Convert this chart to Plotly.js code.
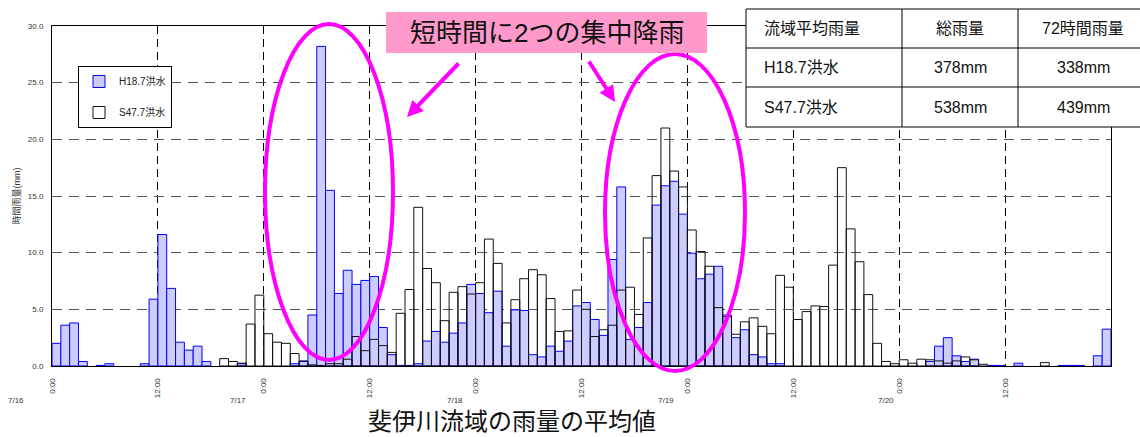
<!DOCTYPE html>
<html><head><meta charset="utf-8">
<script src="https://cdn.plot.ly/plotly-3.0.1.min.js"></script>
<style>html,body{margin:0;padding:0;background:#fff;} #chart{width:1140px;height:437px;}</style>
</head><body><div id="chart"></div>
<script>
// ---- data ----
const hourTickVals = [0,12,24,36,48,60,72,84,96,108];
const hourTickText = ["0:00","12:00","0:00","12:00","0:00","12:00","0:00","12:00","0:00","12:00"];
const dateLabels = ["7/16","7/17","7/18","7/19","7/20"];
const seriesNames = ["H18.7洪水","S47.7洪水"];
const rainH18 = [
  2.0,3.6,3.8,0.4,0,0.05,0.2,0,0,0,0.2,5.9,
  11.6,6.85,2.1,1.4,1.75,0.4,0,0,0,0.2,0,0,
  0,0,0,0.2,0.4,4.5,28.2,15.5,6.4,8.45,7.2,7.55,
  7.9,3.4,1.0,0.05,0.05,0.2,2.2,3.05,2.1,2.9,3.8,7.2,
  6.4,4.7,6.6,1.75,4.95,4.9,1.0,0.8,1.75,1.3,2.2,5.3,
  5.6,4.1,2.7,9.4,15.8,2.35,3.4,5.6,14.2,15.9,16.3,13.4,
  9.95,7.7,8.1,8.8,4.5,2.5,3.2,1.0,0.8,0.2,0.2,0,
  0,0,0,0,0,0,0,0,0,0,0,0,
  0,0,0,0.4,1.75,2.5,0.9,0.4,0.6,0,0.05,0.05,
  0,0.25,0,0,0,0,0.05,0.05,0.05,0,0.9,3.25
];
const rainS47 = [
  0,0,0,0,0,0,0,0,0,0,0,0,
  0,0,0,0,0,0,0,0.65,0.4,0.25,3.7,6.25,
  2.85,2.1,2.0,1.1,0.45,0.1,0.05,0.2,0.2,0.6,2.6,1.35,
  2.35,1.8,1.2,4.65,6.75,14.0,8.6,7.35,4.0,6.5,7.0,6.35,
  7.35,11.2,9.05,3.8,5.85,7.7,8.5,8.05,5.95,3.05,3.1,6.7,
  5.0,2.6,3.2,3.6,6.7,6.95,4.55,11.3,16.8,21.0,17.2,15.8,
  12.0,10.1,8.8,5.15,4.35,2.8,3.9,4.25,3.5,2.85,8.0,6.95,
  4.1,4.8,5.3,5.25,8.9,17.5,12.1,9.2,6.3,2.0,0.4,0.2,
  0.55,0.25,0.6,0.55,0.45,0.25,0.45,0.8,0.55,0.15,0,0,
  0,0,0,0,0.3,0,0,0,0,0,0,0
];
const tableHeader = ["流域平均雨量","総雨量","72時間雨量"];
const tableRowH18 = ["H18.7洪水","378mm","338mm"];
const tableRowS47 = ["S47.7洪水","538mm","439mm"];
const yTickVals = [0,5,10,15,20,25,30];
const chartTitle = "斐伊川流域の雨量の平均値";
const calloutText = "短時間に2つの集中降雨";
const yTitle = "時間雨量(mm)";

// ---- layout helpers (pixel -> paper) ----
const L = 52, R = 1111, T = 26, B = 366;
const px = v => (v - L) / (R - L);
const py = v => (B - v) / (B - T);
const FONT = 'Arial, "Liberation Sans", "Noto Sans CJK JP", sans-serif';

const hours = rainH18.map((_, i) => i + 0.5);
const nz = a => a.map(v => v === 0 ? null : v);

const traces = [
  {type:'bar', name: seriesNames[0], x: hours, y: nz(rainH18), width: 1,
   marker:{color:'rgb(204,204,255)', line:{color:'#0000ff', width:1}},
   legendgroup:'a', legendrank:1, hoverinfo:'x+y'},
  {type:'bar', name: seriesNames[1], x: hours, y: nz(rainS47), width: 1,
   marker:{color:'rgba(255,255,255,0)', line:{color:'#111', width:1}},
   legendgroup:'b', legendrank:2, hoverinfo:'x+y'}
];

const shapes = [];
const annotations = [];

// ellipses
shapes.push({type:'circle', xref:'paper', yref:'paper', layer:'above',
  x0:px(265), x1:px(393), y0:py(360), y1:py(24), line:{color:'#ff00ff', width:4}});
shapes.push({type:'circle', xref:'paper', yref:'paper', layer:'above',
  x0:px(605), x1:px(745), y0:py(371), y1:py(54), line:{color:'#ff00ff', width:4}});
// callout box
shapes.push({type:'rect', xref:'paper', yref:'paper', layer:'above',
  x0:px(386), x1:px(707), y0:py(53), y1:py(12), fillcolor:'#ff99cc', line:{width:0}});
annotations.push({xref:'paper', yref:'paper', x:px(546.5), y:py(33), text:calloutText,
  showarrow:false, font:{family:FONT, size:26, color:'#111'}, xanchor:'center', yanchor:'middle'});
// arrows
annotations.push({xref:'paper', yref:'paper', x:px(407), y:py(117), text:'', showarrow:true,
  ax:53, ay:-55, arrowcolor:'#ff00ff', arrowwidth:4, arrowhead:2, arrowsize:0.8, standoff:0});
annotations.push({xref:'paper', yref:'paper', x:px(615), y:py(102), text:'', showarrow:true,
  ax:-27, ay:-42, arrowcolor:'#ff00ff', arrowwidth:4, arrowhead:2, arrowsize:0.8, standoff:0});

// table
const tRows = [9, 48, 87, 127];
shapes.push({type:'rect', xref:'paper', yref:'paper', layer:'above',
  x0:px(746), x1:px(1160), y0:py(127), y1:py(9), fillcolor:'#fff', line:{color:'#000', width:1}});
[48, 87].forEach(yy => shapes.push({type:'line', xref:'paper', yref:'paper', layer:'above',
  x0:px(746), x1:px(1160), y0:py(yy), y1:py(yy), line:{color:'#000', width:1}}));
[902, 1018].forEach(xx => shapes.push({type:'line', xref:'paper', yref:'paper', layer:'above',
  x0:px(xx), x1:px(xx), y0:py(9), y1:py(127), line:{color:'#000', width:1}}));
const colX = [762, 960, 1083];
[tableHeader, tableRowH18, tableRowS47].forEach((row, r) => {
  const yc = (tRows[r] + tRows[r+1]) / 2;
  row.forEach((txt, c) => annotations.push({xref:'paper', yref:'paper', x:px(colX[c]), y:py(yc),
    text:txt, showarrow:false, xanchor: c === 0 ? 'left' : 'center', yanchor:'middle',
    font:{family:FONT, size:16, color:'#111'}}));
});

// date labels
const datePx = [16, 238, 455, 666, 886];
dateLabels.forEach((d, i) => annotations.push({xref:'paper', yref:'paper', x:px(datePx[i]), y:py(400),
  text:d, showarrow:false, xanchor:'center', yanchor:'middle', borderpad:0,
  font:{family:FONT, size:8, color:'#333'}}));

// bottom title
annotations.push({xref:'paper', yref:'paper', x:px(512), y:py(421), text:chartTitle, showarrow:false,
  xanchor:'center', yanchor:'middle', borderpad:0, font:{family:FONT, size:24, color:'#111'}});

const layout = {
  width:1140, height:437,
  margin:{l:L, r:1140-R, t:T, b:437-B, pad:0},
  paper_bgcolor:'#fff', plot_bgcolor:'#fff',
  barmode:'overlay', bargap:0,
  font:{family:FONT, color:'#333'},
  showlegend:true,
  legend:{x:px(78), y:py(66), xanchor:'left', yanchor:'top', bgcolor:'#fff',
    bordercolor:'#000', borderwidth:1, font:{family:FONT, size:10, color:'#222'},
    traceorder:'grouped', tracegroupgap:12},
  xaxis:{range:[0,120], tickmode:'array', tickvals:hourTickVals, ticktext:hourTickText,
    tickangle:-90, tickfont:{size:8, color:'#333'}, ticks:'outside', ticklen:8, tickcolor:'rgba(0,0,0,0)',
    showgrid:true, gridcolor:'#000', gridwidth:1, griddash:'8px,5px',
    showline:true, linecolor:'#000', linewidth:1, mirror:true, zeroline:false, fixedrange:true},
  yaxis:{range:[0,30], tickmode:'array', tickvals:yTickVals, tickformat:'.1f',
    tickfont:{size:8, color:'#333'}, ticks:'outside', ticklen:6, tickcolor:'rgba(0,0,0,0)',
    showgrid:true, gridcolor:'#555', gridwidth:1, griddash:'10px,7px',
    showline:true, linecolor:'#000', linewidth:1, mirror:true, zeroline:false, fixedrange:true,
    title:{text:yTitle, font:{family:FONT, size:9, color:'#333'}, standoff:5}},
  shapes: shapes,
  annotations: annotations
};

Plotly.newPlot('chart', traces, layout, {displayModeBar:false, staticPlot:true});
</script>
</body></html>
